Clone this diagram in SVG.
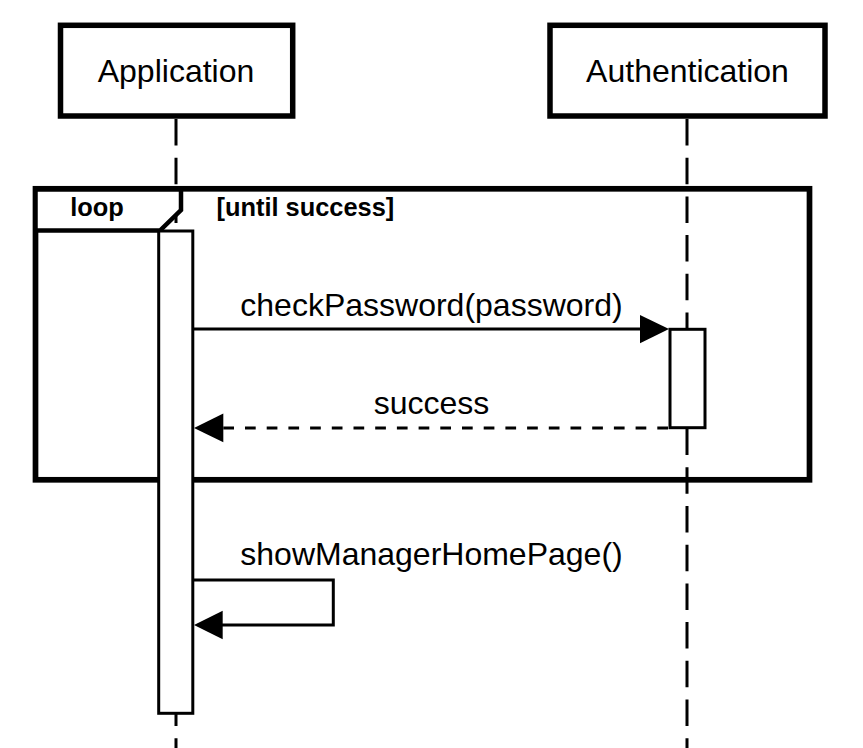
<svg xmlns="http://www.w3.org/2000/svg" width="863" height="748" viewBox="0 0 863 748">
<style>
.lifeline{stroke:#000;stroke-width:3;stroke-dasharray:26.5 12.2;fill:none}
.box{fill:#fff;stroke:#000;stroke-width:5.5}
.act{fill:#fff;stroke:#000;stroke-width:3}
.msg{stroke:#000;stroke-width:3;fill:none}
.ret{stroke:#000;stroke-width:3;fill:none;stroke-dasharray:10.7 11}
.head{fill:#000;stroke:none}
.lbl{font-family:"Liberation Sans",Arial,sans-serif;font-size:32px;fill:#000}
.bold{font-family:"Liberation Sans",Arial,sans-serif;font-size:25.4px;font-weight:bold;fill:#000}
</style>
<rect width="863" height="748" fill="#fff"/>
<g id="lifelines">
<line class="lifeline" x1="176" y1="119" x2="176" y2="748"/>
<line class="lifeline" x1="687" y1="119" x2="687" y2="748"/>
</g>
<g id="participant-application">
<rect class="box" x="60.5" y="25.3" width="232.2" height="90.7"/>
<text class="lbl" x="176" y="82" text-anchor="middle">Application</text>
</g>
<g id="participant-authentication">
<rect class="box" x="550" y="25.3" width="275" height="90.7"/>
<text class="lbl" x="687.5" y="82" text-anchor="middle">Authentication</text>
</g>
<g id="loop-frame">
<rect x="35.5" y="188.8" width="774" height="291" fill="none" stroke="#000" stroke-width="5.7"/>
<path d="M35.5 188.8 H181 V210 L160 230.5 H35.5 Z" fill="#fff" stroke="#000" stroke-width="4.5" stroke-linejoin="miter"/>
<line x1="35.5" y1="188.8" x2="181" y2="188.8" stroke="#000" stroke-width="5.7"/>
<text class="bold" x="97" y="216" text-anchor="middle">loop</text>
<text class="bold" x="216.5" y="216">[until success]</text>
</g>
<g id="activation-application">
<rect class="act" x="158.7" y="231" width="34.1" height="482.3"/>
</g>
<g id="activation-authentication">
<rect class="act" x="670" y="329.3" width="35" height="98.4"/>
</g>
<g id="connectors">
<line class="msg" x1="192.8" y1="329" x2="642" y2="329"/>
<polygon class="head" points="640,315 669,329 640,343.3"/>
<text class="lbl" x="431.5" y="315.5" text-anchor="middle">checkPassword(password)</text>
<line class="ret" x1="668" y1="428" x2="220" y2="428"/>
<polygon class="head" points="223.3,413.5 194,428 223.3,442.3"/>
<text class="lbl" x="431.5" y="414" text-anchor="middle">success</text>
<path class="msg" d="M192.8 580 H333.3 V625 H220"/>
<polygon class="head" points="222.7,610.7 194,625 222.7,639.3"/>
<text class="lbl" x="431.5" y="565" text-anchor="middle">showManagerHomePage()</text>
</g>
</svg>
